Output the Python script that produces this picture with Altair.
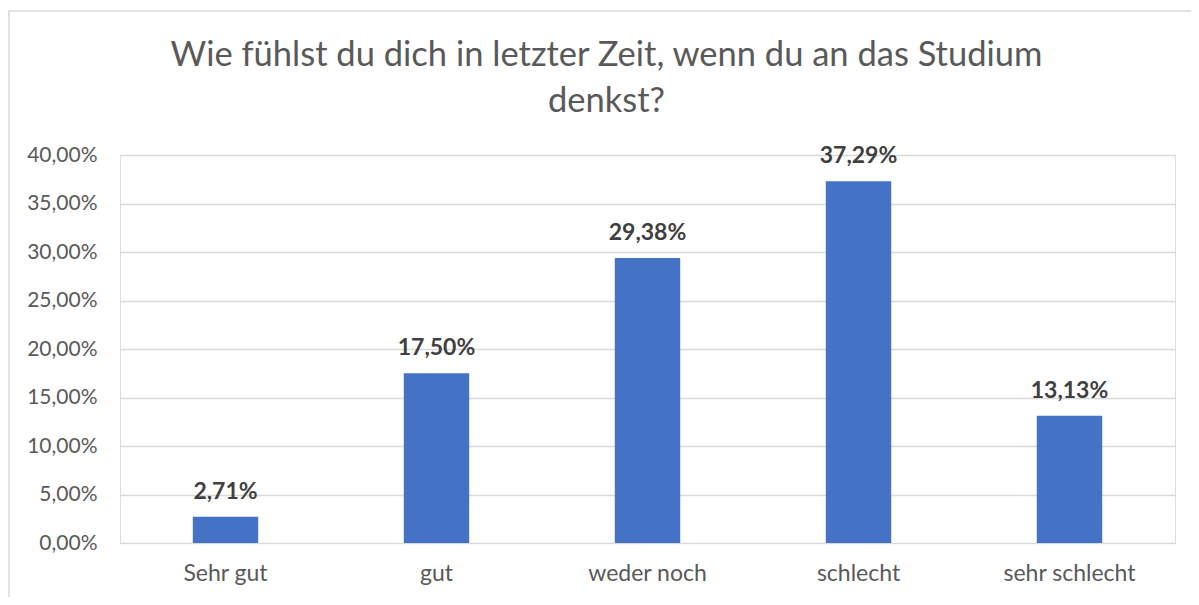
import altair as alt
import pandas as pd

categories = ["Sehr gut", "gut", "weder noch", "schlecht", "sehr schlecht"]
shares = [0.0271, 0.1750, 0.2938, 0.3729, 0.1313]
title_lines = ["Wie fühlst du dich in letzter Zeit, wenn du an das Studium", "denkst?"]

df = pd.DataFrame({"kategorie": categories, "anteil": shares})

FONT = "Lato"
W, H = 1055, 388

x = alt.X("kategorie:N", sort=categories, title=None,
          scale=alt.Scale(paddingInner=0.69, paddingOuter=0.345),
          axis=alt.Axis(labelAngle=0, labelFontSize=23, labelColor="#595959", labelFont=FONT,
                        labelPadding=19, ticks=False, domain=False, grid=False))
y = alt.Y("anteil:Q", title=None,
          scale=alt.Scale(domain=[0, 0.4], nice=False),
          axis=alt.Axis(values=[0, 0.05, 0.1, 0.15, 0.2, 0.25, 0.3, 0.35, 0.4],
                        labelExpr="replace(format(datum.value, '.2%'), '.', ',')",
                        labelFontSize=21, labelColor="#595959", labelFont=FONT,
                        labelPadding=23, ticks=False, domain=False,
                        gridColor="#D9D9D9", gridWidth=1.4))

base = alt.Chart(df)
bars = base.mark_bar(color="#4472C4").encode(x=x, y=y)
labels = base.transform_calculate(
    lab="replace(format(datum.anteil, '.2%'), '.', ',')"
).mark_text(font=FONT, fontSize=23, fontWeight="bold", color="#404040",
            baseline="alphabetic", dy=-18).encode(x=x, y=y, text="lab:N")

frame = alt.Chart(pd.DataFrame({"f": [0]})).mark_rect(
    fill=None, stroke="#D9D9D9", strokeWidth=1.5
).encode(x=alt.value(-111), x2=alt.value(W + 60), y=alt.value(-144), y2=alt.value(H + 80))

chart = alt.layer(frame, bars, labels).properties(
    width=W, height=H,
    autosize=alt.AutoSizeParams(type="none"),
    padding={"left": 112, "top": 147, "right": 16, "bottom": 54},
    title=alt.TitleParams(text=title_lines, fontSize=34.5, font=FONT, fontWeight="normal",
                          color="#595959", lineHeight=45.5, anchor="middle", dx=-41,
                          offset=0, dy=109),
).configure_view(stroke=None).configure(background="white")

chart.save("out.html", embed_options={"renderer": "svg", "actions": False})
